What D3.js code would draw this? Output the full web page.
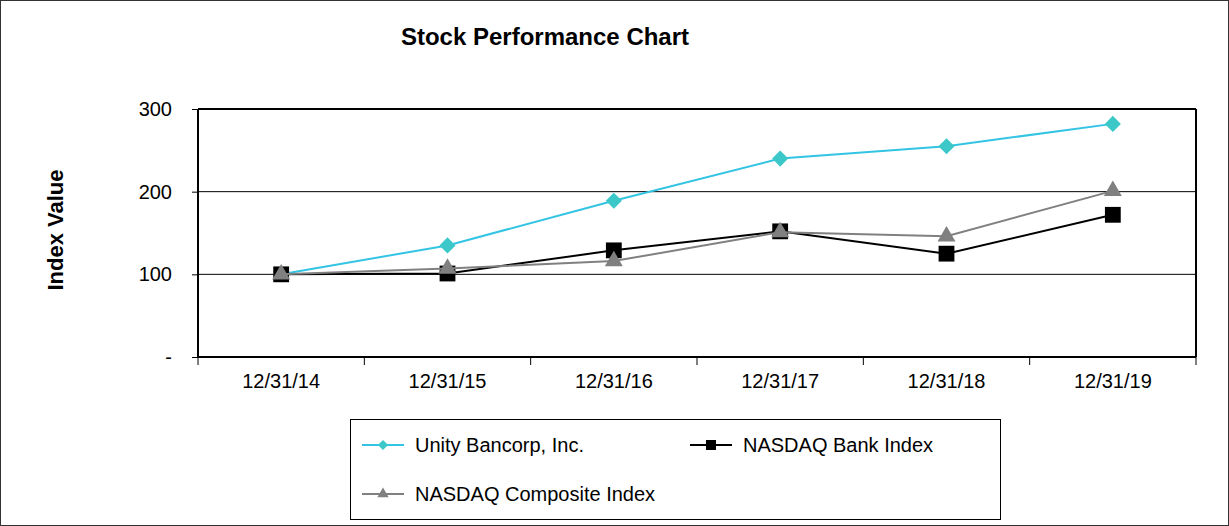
<!DOCTYPE html>
<html>
<head>
<meta charset="utf-8">
<script src="https://cdn.jsdelivr.net/npm/d3@7"></script>
<style>
  body { margin: 0; background: #fff; }
  svg { display: block; font-family: "Liberation Sans", Arial, sans-serif; }
</style>
</head>
<body>
<svg id="chart"></svg>
<script>
// chart data
const dates = ["12/31/14", "12/31/15", "12/31/16", "12/31/17", "12/31/18", "12/31/19"];
const unity = [100, 135, 189, 240, 255, 282];
const bank = [100, 101, 129, 152, 125, 172];
const composite = [100, 107, 116, 151, 146, 201];
const yTicks = [0, 100, 200, 300];

const width = 1229, height = 526;
const plot = { left: 198, right: 1196, top: 109, bottom: 357 };

const svg = d3.select("#chart").attr("width", width).attr("height", height);

svg.append("rect")
  .attr("x", 0.5).attr("y", 0.5)
  .attr("width", width - 1).attr("height", height - 1)
  .attr("fill", "#fff").attr("stroke", "#333");

const x = d3.scaleBand().domain(dates).range([plot.left, plot.right]);
const y = d3.scaleLinear().domain([0, 300]).range([plot.bottom, plot.top]);

// gridlines
svg.selectAll(".grid")
  .data(yTicks.filter(t => t > 0 && t < 300))
  .enter()
  .append("line")
  .attr("x1", plot.left).attr("x2", plot.right)
  .attr("y1", d => y(d)).attr("y2", d => y(d))
  .attr("stroke", "#000").attr("stroke-width", 1);

// plot frame
svg.append("line").attr("x1", plot.left).attr("x2", plot.right)
  .attr("y1", y(300)).attr("y2", y(300)).attr("stroke", "#000").attr("stroke-width", 2);
svg.append("line").attr("x1", plot.right).attr("x2", plot.right)
  .attr("y1", plot.top).attr("y2", plot.bottom).attr("stroke", "#000").attr("stroke-width", 2);

// y axis
let yAxis = d3.axisLeft(y).tickValues(yTicks).tickSize(6).tickPadding(20)
  .tickFormat(d => d === 0 ? "-" : d);
let gy = svg.append("g").attr("transform", `translate(${plot.left},0)`).call(yAxis);
gy.select(".domain").attr("stroke-width", 2).attr("d", `M-0,${plot.top}V${plot.bottom}`);
gy.selectAll("text").attr("font-size", "20px").attr("fill", "#000")
  .style("font-family", "Liberation Sans, Arial, sans-serif");

// x axis
let xAxis = d3.axisBottom(x).tickSize(0).tickPadding(17);
let gx = svg.append("g").attr("transform", `translate(0,${plot.bottom})`).call(xAxis);
gx.select(".domain").attr("stroke-width", 2).attr("d", `M${plot.left},0H${plot.right}`);
gx.selectAll("text").attr("font-size", "20px").attr("fill", "#000")
  .style("font-family", "Liberation Sans, Arial, sans-serif");
gx.selectAll(".boundary")
  .data(d3.range(dates.length + 1))
  .enter()
  .append("line")
  .attr("x1", i => plot.left + i * x.step()).attr("x2", i => plot.left + i * x.step())
  .attr("y1", 0).attr("y2", 8).attr("stroke", "#000");

// title and axis label
svg.append("text").attr("x", 545).attr("y", 45).attr("text-anchor", "middle")
  .attr("font-size", "24px").attr("font-weight", "bold").text("Stock Performance Chart");
svg.append("text").attr("transform", `translate(63,230) rotate(-90)`).attr("text-anchor", "middle")
  .attr("font-size", "22px").attr("font-weight", "bold").text("Index  Value");

const series = [
  { name: "Unity Bancorp, Inc.", values: unity, line: "#33c4e4", fill: "#3cc8c8", shape: d3.symbolSquare, rot: 45, size: 130 },
  { name: "NASDAQ Bank Index", values: bank, line: "#000", fill: "#000", shape: d3.symbolSquare, rot: 0, size: 250 },
  { name: "NASDAQ Composite Index", values: composite, line: "#808080", fill: "#808080", shape: d3.symbolTriangle, rot: 0, size: 140 }
];

const cx = d => x(d) + x.bandwidth() / 2;
const line = d3.line().x((v, i) => cx(dates[i])).y(v => y(v));

// composite is drawn last, it sits on top of the others
series.forEach(s => {
  svg.append("path").attr("d", line(s.values)).attr("fill", "none")
    .attr("stroke", s.line).attr("stroke-width", 2);
  svg.selectAll(null).data(s.values).enter().append("path")
    .attr("transform", (v, i) => `translate(${cx(dates[i])},${y(v)}) rotate(${s.rot})`)
    .attr("d", d3.symbol(s.shape, s.size))
    .attr("fill", s.fill);
});

// legend
let legend = svg.append("g");
legend.append("rect").attr("x", 350.5).attr("y", 419.5).attr("width", 650).attr("height", 100)
  .attr("fill", "#fff").attr("stroke", "#000");
const legendPos = [[362, 445], [690, 445], [362, 494]];
series.forEach((s, i) => {
  let [lx, ly] = legendPos[i];
  legend.append("line").attr("x1", lx).attr("x2", lx + 42).attr("y1", ly).attr("y2", ly)
    .attr("stroke", s.line).attr("stroke-width", 2);
  legend.append("path")
    .attr("transform", `translate(${lx + 21},${ly}) rotate(${s.rot})`)
    .attr("d", d3.symbol(s.shape, s.size * 0.4)).attr("fill", s.fill);
  legend.append("text").attr("x", lx + 53).attr("y", ly + 7).attr("font-size", "20px").text(s.name);
});
</script>
</body>
</html>
